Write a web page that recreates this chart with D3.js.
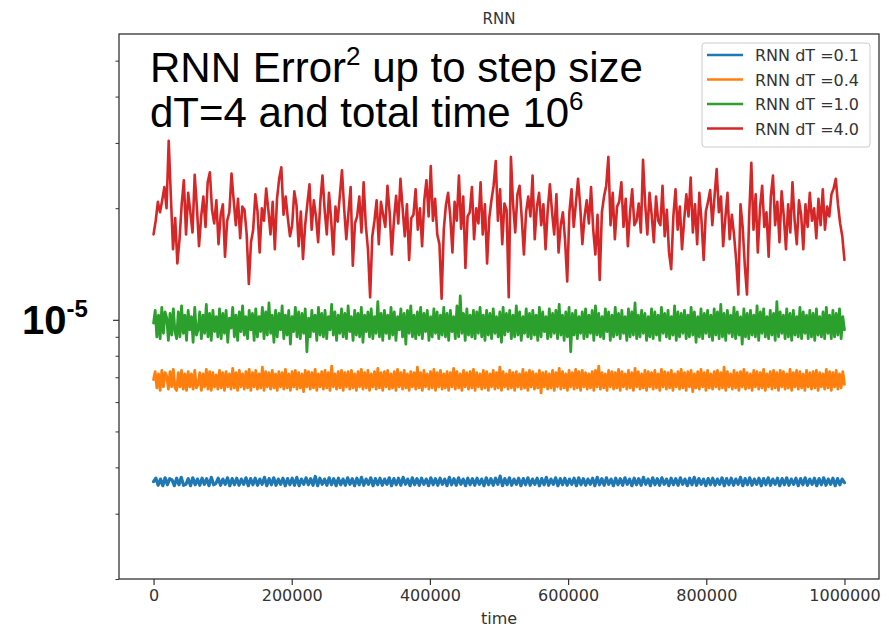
<!DOCTYPE html>
<html><head><meta charset="utf-8">
<script src="https://cdn.jsdelivr.net/npm/d3@7"></script>
<style>body{margin:0;background:#fff} svg{display:block}</style>
</head><body><svg id="c" width="889" height="628"></svg>
<script>
// ---- data (values in units of 1e-6) ----
const UNIT = 1e-6;
const totalTime = 1000000;
const seriesLabels = ["RNN dT =0.1", "RNN dT =0.4", "RNN dT =1.0", "RNN dT =4.0"];
const seriesColors = ["#1f77b4", "#ff7f0e", "#2ca02c", "#d62728"];

const blueVals = [
3.66,3.74,3.58,3.72,3.57,3.75,3.59,3.73,3.70,3.57,3.74,3.59,3.76,3.58,3.60,3.73,3.57,3.75,3.59,3.72,
3.58,3.74,3.60,3.73,3.57,3.76,3.59,3.62,3.74,3.58,3.72,3.60,3.75,3.57,3.73,3.59,3.74,3.58,3.72,3.60,
3.75,3.57,3.73,3.59,3.74,3.58,3.72,3.60,3.76,3.57,3.73,3.59,3.75,3.58,3.72,3.60,3.74,3.57,3.73,3.59,
3.74,3.58,3.76,3.57,3.72,3.60,3.75,3.59,3.73,3.58,3.78,3.57,3.74,3.60,3.72,3.58,3.75,3.59,3.73,3.57,
3.74,3.59,3.72,3.58,3.75,3.60,3.73,3.57,3.74,3.59,3.76,3.58,3.72,3.60,3.75,3.57,3.73,3.59,3.74,3.58,
3.72,3.60,3.75,3.57,3.73,3.59,3.74,3.58,3.76,3.60,3.72,3.57,3.75,3.59,3.73,3.58,3.74,3.60,3.72,3.57,
3.75,3.59,3.73,3.58,3.74,3.60,3.72,3.57,3.76,3.59,3.73,3.58,3.75,3.60,3.72,3.57,3.74,3.59,3.73,3.58,
3.74,3.60,3.72,3.57,3.75,3.59,3.73,3.58,3.74,3.60,3.79,3.57,3.73,3.59,3.75,3.58,3.72,3.60,3.74,3.57,
3.73,3.59,3.75,3.58,3.72,3.60,3.74,3.57,3.73,3.59,3.76,3.58,3.72,3.60,3.75,3.57,3.73,3.59,3.74,3.58,
3.72,3.60,3.74,3.57,3.75,3.59,3.73,3.58,3.72,3.60,3.74,3.57,3.76,3.59,3.73,3.58,3.75,3.60,3.72,3.57,
3.74,3.59,3.73,3.58,3.75,3.60,3.72,3.57,3.74,3.59,3.73,3.58,3.76,3.60,3.72,3.57,3.75,3.59,3.73,3.58,
3.75,3.60,3.72,3.57,3.74,3.59,3.73,3.58,3.75,3.60,3.72,3.57,3.74,3.59,3.76,3.58,3.73,3.60,3.72,3.57,
3.73,3.59,3.74,3.58,3.72,3.60,3.75,3.57,3.73,3.59,3.74,3.58,3.72,3.60,3.76,3.57,3.73,3.59,3.75,3.58,
3.72,3.60,3.74,3.57,3.73,3.59,3.75,3.58,3.72,3.60,3.74,3.57,3.73,3.59,3.75,3.58,3.72,3.60,3.74,3.57,
3.73,3.59,3.75,3.58,3.72,3.60,3.74,3.57,3.73,3.59,3.75,3.58,3.72,3.60,3.74,3.57,3.73,3.59,3.72,3.64];

const orangeVals = [
6.90,7.25,6.55,7.15,6.45,7.30,6.60,7.20,7.05,6.50,7.25,6.60,7.35,6.55,6.45,7.20,6.60,7.30,6.50,7.15,
6.45,7.25,6.60,7.15,6.50,7.30,6.55,6.70,7.20,6.45,7.15,6.60,7.35,6.50,7.25,6.45,7.20,6.60,7.10,6.50,
7.30,6.55,7.20,6.45,7.25,6.60,7.15,6.50,7.40,6.55,7.20,6.45,7.30,6.60,7.15,6.50,7.25,6.55,7.35,6.45,
7.20,6.60,7.30,6.50,7.15,6.55,7.45,6.45,7.25,6.60,7.20,6.50,7.30,6.55,7.15,6.45,7.25,6.60,7.20,6.50,
7.35,6.55,7.15,6.45,7.25,6.60,7.30,6.50,7.20,6.55,7.15,6.40,7.30,6.60,7.25,6.50,7.20,6.55,7.35,6.45,
7.15,6.60,7.25,6.50,7.30,6.55,7.20,6.45,7.50,6.60,7.15,6.50,7.25,6.55,7.30,6.45,7.20,6.60,7.25,6.50,
7.30,6.55,7.15,6.45,7.25,6.60,7.35,6.50,7.20,6.55,7.30,6.45,7.15,6.60,7.25,6.50,7.40,6.55,7.20,6.45,
7.25,6.60,7.30,6.50,7.15,6.55,7.25,6.45,7.35,6.60,7.20,6.50,7.30,6.55,7.15,6.45,7.25,6.60,7.20,6.50,
7.45,6.55,7.20,6.45,7.30,6.60,7.15,6.50,7.25,6.55,7.35,6.45,7.20,6.60,7.30,6.50,7.15,6.55,7.25,6.45,
7.20,6.60,7.40,6.50,7.25,6.55,7.15,6.45,7.30,6.60,7.20,6.50,7.25,6.55,7.35,6.45,7.20,6.60,7.15,6.50,
7.30,6.55,7.25,6.45,7.15,6.60,7.30,6.50,7.20,6.55,7.45,6.45,7.25,6.60,7.15,6.50,7.30,6.55,7.20,6.45,
7.25,6.60,7.15,6.50,7.35,6.55,7.20,6.45,7.30,6.60,7.25,6.50,7.15,6.55,7.30,6.35,7.20,6.60,7.25,6.50,
7.15,6.55,7.30,6.45,7.20,6.60,7.40,6.50,7.25,6.55,7.15,6.45,7.30,6.60,7.20,6.50,7.35,6.55,7.25,6.45,
7.30,6.60,7.20,6.50,7.15,6.55,7.25,6.45,7.30,6.60,7.50,6.50,7.20,6.55,7.15,6.45,7.30,6.60,7.25,6.50,
7.20,6.55,7.35,6.45,7.25,6.60,7.15,6.50,7.30,6.55,7.20,6.45,7.40,6.60,7.25,6.50,7.15,6.55,7.30,6.45,
7.25,6.60,7.20,6.50,7.30,6.55,7.15,6.45,7.35,6.60,7.25,6.50,7.20,6.55,7.30,6.45,7.15,6.60,7.25,6.50,
7.35,6.55,7.20,6.45,7.25,6.60,7.30,6.40,7.15,6.55,7.25,6.50,7.35,6.60,7.20,6.45,7.30,6.55,7.15,6.50,
7.25,6.60,7.30,6.50,7.20,6.55,7.45,6.45,7.25,6.60,7.15,6.50,7.30,6.55,7.20,6.45,7.25,6.60,7.35,6.50,
7.20,6.55,7.15,6.45,7.30,6.60,7.25,6.50,7.20,6.55,7.35,6.45,7.15,6.60,7.25,6.50,7.30,6.55,7.20,6.45,
7.30,6.60,7.25,6.50,7.15,6.55,7.35,6.45,7.20,6.60,7.30,6.50,7.25,6.55,7.15,6.45,7.30,6.60,7.20,6.50,
7.25,6.55,7.30,6.45,7.20,6.60,7.15,6.50,7.35,6.55,7.25,6.45,7.20,6.60,7.30,6.50,7.15,6.55,7.25,6.70];

const greenVals = [
9.8,10.6,9.0,10.3,8.9,10.8,9.2,10.5,10.1,8.8,10.4,9.1,10.7,9.3,8.9,10.5,9.0,10.9,9.2,10.3,
8.8,10.6,9.4,10.2,8.7,10.8,9.1,9.4,10.5,8.9,10.3,9.2,11.0,9.0,10.4,8.8,10.6,9.3,10.2,9.0,
10.7,8.9,10.4,9.2,10.6,8.7,10.1,9.5,10.8,9.0,10.3,8.8,10.5,9.3,10.9,9.1,10.2,8.9,10.6,9.4,
10.4,8.8,10.7,9.0,10.2,9.3,10.8,8.9,10.5,9.1,11.1,9.2,10.3,8.7,10.6,9.0,10.4,9.4,10.9,8.9,
10.3,9.1,10.6,8.6,10.2,9.3,10.8,9.0,10.5,8.9,10.4,9.2,10.7,8.2,10.1,9.0,10.6,9.3,10.3,8.8,
10.8,9.1,10.4,9.0,10.6,8.9,10.2,9.4,11.0,9.1,10.5,8.8,10.3,9.2,10.7,9.0,10.4,8.9,10.9,9.3,
10.2,8.8,10.6,9.1,10.4,9.0,10.8,8.7,10.3,9.3,10.5,9.0,10.7,8.9,10.2,9.2,11.2,9.0,10.4,8.8,
10.6,9.2,10.3,8.9,10.8,9.1,10.5,8.8,10.2,9.4,10.7,9.0,10.4,8.6,10.6,9.2,10.9,9.0,10.3,8.9,
10.5,9.1,10.8,8.9,10.4,9.3,10.6,8.8,10.2,9.0,10.7,9.2,10.5,8.9,10.3,9.1,10.8,9.0,10.4,8.8,
10.6,9.3,10.2,8.9,10.9,9.0,11.6,9.2,10.4,8.8,10.7,9.1,10.3,9.0,10.6,8.9,10.5,9.2,10.8,9.0,
10.3,8.8,10.6,9.1,10.4,8.9,10.7,9.2,10.2,9.0,10.5,8.7,10.8,9.1,10.4,9.3,10.6,8.9,10.3,9.0,
10.9,9.1,10.5,8.8,10.2,9.2,10.7,9.0,10.4,8.9,10.6,9.1,10.3,8.8,10.8,9.0,10.5,9.3,10.2,8.9,
10.7,9.0,10.4,9.2,10.6,8.9,11.0,9.1,10.3,8.8,10.5,9.0,10.8,8.2,10.4,9.1,10.6,8.9,10.2,9.2,
10.5,8.9,10.7,9.0,10.3,9.2,10.6,8.8,10.9,9.1,10.4,9.0,10.2,8.9,10.7,9.3,10.5,8.8,10.3,9.0,
10.8,9.1,10.4,8.9,10.6,9.2,10.2,8.8,10.7,9.0,10.5,9.1,11.1,8.9,10.3,9.0,10.6,9.2,10.4,8.8,
10.2,9.0,10.7,8.9,10.5,9.1,10.3,8.8,10.8,9.2,10.4,9.0,10.6,8.9,10.2,9.1,10.9,8.8,10.5,9.0,
10.4,9.2,10.6,8.9,10.3,9.0,10.8,9.1,10.5,8.7,10.2,9.0,10.7,8.9,10.4,9.2,10.6,9.0,10.3,8.8,
10.7,9.1,10.5,8.9,11.0,9.0,10.4,8.8,10.6,9.2,10.3,9.0,10.8,8.9,10.5,9.1,10.2,8.6,10.7,9.0,
10.4,8.9,10.6,9.1,10.3,9.0,10.9,8.8,10.5,9.2,10.7,9.0,10.2,8.9,10.6,9.1,10.4,8.8,11.2,9.0,
10.5,9.2,10.3,8.9,10.7,9.0,10.4,8.8,10.6,9.1,10.2,9.0,10.8,8.9,10.5,9.2,10.3,8.9,10.6,9.0,
10.4,8.8,10.7,9.1,10.2,9.0,10.5,8.9,10.8,9.2,10.3,8.9,10.6,9.0,10.4,9.1,10.7,8.9,10.2,9.4];

const redVals = [
17.0,18.5,20.8,19.5,21.0,22.8,20.0,30.4,21.5,15.5,
18.8,14.2,16.5,20.5,23.8,17.0,22.0,19.5,17.2,24.6,
20.2,15.8,19.0,21.5,17.8,23.5,25.0,19.8,18.2,21.0,
16.0,19.2,20.5,14.8,18.5,19.5,24.8,21.0,18.0,21.2,
16.6,20.2,19.8,17.0,12.5,16.2,17.5,21.8,19.6,15.2,
20.0,18.5,22.6,19.8,17.0,20.8,15.5,21.2,24.0,25.8,
19.2,21.5,18.8,16.8,18.0,22.2,20.4,15.8,19.6,14.6,
18.0,20.5,23.2,17.5,21.0,19.0,16.2,20.8,24.5,19.8,
17.0,22.0,18.6,15.0,20.2,18.4,21.6,25.3,20.0,16.5,
19.5,22.8,14.0,18.2,19.0,21.5,17.2,23.5,18.0,15.5,
11.5,16.8,18.5,21.0,16.0,20.8,19.2,17.8,23.0,19.5,
15.0,18.6,21.6,18.2,24.0,20.0,16.8,20.5,14.5,18.8,
19.2,22.5,17.5,20.0,15.8,21.0,23.8,19.0,26.0,18.5,
21.2,17.0,16.0,11.4,17.5,20.4,22.0,19.0,15.2,20.8,
18.5,24.5,17.6,21.5,13.8,19.0,19.5,22.8,16.5,20.0,
18.2,23.5,17.0,20.5,14.2,18.8,21.0,23.0,26.8,18.5,
22.5,16.0,20.6,19.8,11.5,27.5,20.5,17.2,21.8,23.0,
18.8,15.0,19.5,21.5,19.0,24.5,16.5,20.2,22.0,18.0,
20.5,15.5,19.8,23.2,19.5,17.0,21.8,15.2,18.0,19.5,
16.4,12.7,19.5,22.5,17.8,20.6,24.0,20.2,16.0,19.0,
21.0,18.2,22.8,17.5,15.0,19.2,12.8,19.5,21.5,23.0,
27.5,18.0,22.0,16.5,20.2,20.8,23.5,17.8,21.2,15.8,
19.5,22.5,18.0,18.5,20.6,17.2,27.0,20.5,17.0,22.0,
19.2,16.2,21.5,18.5,18.0,23.0,16.8,19.8,15.2,13.7,
19.0,22.5,17.5,20.2,15.5,18.6,21.8,19.0,24.2,17.2,
20.5,16.0,22.0,18.5,14.5,19.6,20.8,22.4,18.0,21.5,
25.5,19.5,21.5,15.8,18.8,22.0,16.5,19.2,17.0,14.5,
11.7,20.5,17.8,14.0,11.7,19.0,26.5,17.5,21.8,15.2,
20.0,23.0,17.8,19.5,14.8,21.5,24.5,18.0,20.8,16.2,
22.2,19.0,15.5,20.5,17.2,23.5,18.5,16.0,21.0,19.2,
15.5,20.5,17.8,22.0,18.5,20.0,16.6,21.2,18.0,22.5,
17.5,20.2,19.0,21.8,22.6,24.0,20.5,18.2,16.8,14.5];

const xTickValues = [0, 200000, 400000, 600000, 800000, 1000000];
const xTickLabels = ["0", "200000", "400000", "600000", "800000", "1000000"];
const yMajorTicks = [1e-5];
const yMinorTicks = [2e-6,3e-6,4e-6,5e-6,6e-6,7e-6,8e-6,9e-6,2e-5,3e-5,4e-5,5e-5];
const titleText = "RNN";
const xLabelText = "time";

// ---- drawing ----
const series = [blueVals, orangeVals, greenVals, redVals];
const strokeWidths = [3.2, 2.8, 2.8, 2.6];
const svg = d3.select("#c");
const P = {left: 119, right: 879, top: 34, bottom: 579};
const x = d3.scaleLinear().domain([-50000, 1050000]).range([P.left, P.right]);
const y = d3.scaleLog().domain([2.0e-6, 5.9e-5]).range([P.bottom, P.top]);

svg.append("rect").attr("width", 889).attr("height", 628).attr("fill", "#fff");

svg.append("clipPath").attr("id", "clip").append("rect")
  .attr("x", P.left).attr("y", P.top).attr("width", P.right - P.left).attr("height", P.bottom - P.top);

const line = d3.line().x(d => x(d[0])).y(d => y(d[1]));
const plot = svg.append("g").attr("clip-path", "url(#clip)");
series.forEach((vals, k) => {
  const n = vals.length;
  const pts = vals.map((v, i) => [i / (n - 1) * totalTime, v * UNIT]);
  plot.append("path").datum(pts).attr("d", line)
    .attr("fill", "none").attr("stroke", seriesColors[k])
    .attr("stroke-width", strokeWidths[k]).attr("stroke-linejoin", "round")
    .attr("stroke-linecap", "round");
});

// axes
const fontTick = "'DejaVu Sans', sans-serif";
const xAxis = svg.append("g").attr("transform", `translate(0,${P.bottom})`)
  .call(d3.axisBottom(x).tickValues(xTickValues).tickFormat((d, i) => xTickLabels[i]).tickSize(6).tickPadding(5));
xAxis.select(".domain").remove();
xAxis.selectAll("line").attr("stroke", "#333").attr("stroke-width", 1.2);
xAxis.selectAll("text").attr("fill", "#333").style("font-family", fontTick).style("font-size", "16px");

const yMinor = svg.append("g").attr("transform", `translate(${P.left},0)`)
  .call(d3.axisLeft(y).tickValues(yMinorTicks).tickFormat("").tickSize(3.5));
yMinor.select(".domain").remove();
yMinor.selectAll("line").attr("stroke", "#333").attr("stroke-width", 1);
const yMajor = svg.append("g").attr("transform", `translate(${P.left},0)`)
  .call(d3.axisLeft(y).tickValues(yMajorTicks).tickFormat("").tickSize(6));
yMajor.select(".domain").remove();
yMajor.selectAll("line").attr("stroke", "#333").attr("stroke-width", 1.2);

// frame
svg.append("rect").attr("x", P.left).attr("y", P.top)
  .attr("width", P.right - P.left).attr("height", P.bottom - P.top)
  .attr("fill", "none").attr("stroke", "#333").attr("stroke-width", 1.3);

// title and x label
svg.append("text").attr("x", (P.left + P.right) / 2).attr("y", 24).attr("text-anchor", "middle")
  .style("font-family", fontTick).style("font-size", "15px").attr("fill", "#333").text(titleText);
svg.append("text").attr("x", (P.left + P.right) / 2).attr("y", 624).attr("text-anchor", "middle")
  .style("font-family", fontTick).style("font-size", "16px").attr("fill", "#333").text(xLabelText);

// legend
const lg = svg.append("g");
lg.append("rect").attr("x", 702).attr("y", 43).attr("width", 168).attr("height", 104)
  .attr("rx", 3).attr("fill", "#fff").attr("fill-opacity", 0.85).attr("stroke", "#ccc").attr("stroke-width", 1);
seriesLabels.forEach((lab, k) => {
  const cy = 55 + k * 24.5;
  lg.append("line").attr("x1", 707).attr("x2", 743).attr("y1", cy).attr("y2", cy)
    .attr("stroke", seriesColors[k]).attr("stroke-width", 2.6);
  lg.append("text").attr("x", 755).attr("y", cy + 6)
    .style("font-family", fontTick).style("font-size", "16px").attr("fill", "#333").text(lab);
});

// annotations
const annFont = "'Liberation Sans', Arial, sans-serif";
const ann = svg.append("text").style("font-family", annFont)
  .style("font-size", "42px").attr("fill", "#000").attr("x", 150).attr("y", 82);
ann.append("tspan").text("RNN Error");
ann.append("tspan").attr("dy", -17).style("font-size", "26px").text("2");
ann.append("tspan").attr("dy", 17).text(" up to step size");
const ann2 = svg.append("text").style("font-family", annFont)
  .style("font-size", "42px").attr("fill", "#000").attr("x", 150).attr("y", 127);
ann2.append("tspan").text("dT=4 and total time 10");
ann2.append("tspan").attr("dy", -17).style("font-size", "26px").text("6");

const yl = svg.append("text").attr("x", 22).attr("y", 334)
  .style("font-family", annFont).style("font-weight", "bold")
  .style("font-size", "40px").attr("fill", "#000");
yl.append("tspan").text("10");
yl.append("tspan").attr("dy", -17).style("font-size", "24px").text("-5");
</script></body></html>
